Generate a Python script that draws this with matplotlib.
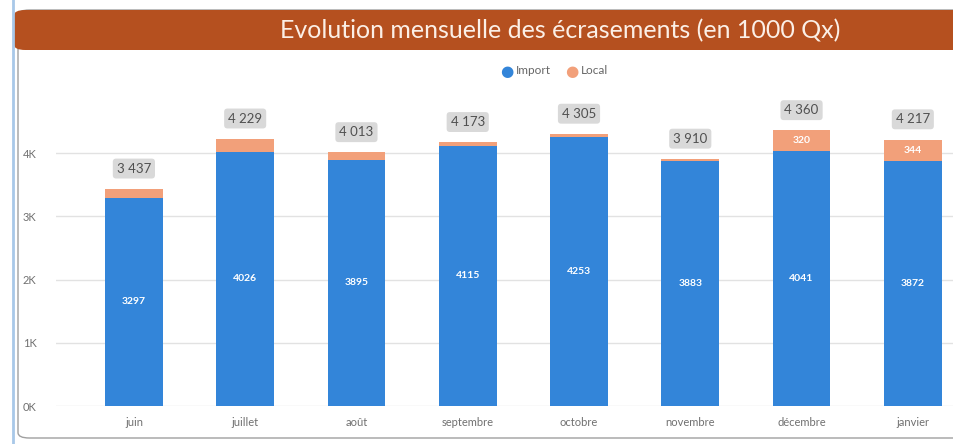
import matplotlib
matplotlib.use("Agg")
import matplotlib.pyplot as plt
from matplotlib.patches import FancyBboxPatch
from matplotlib.lines import Line2D

months = ["juin", "juillet", "août", "septembre", "octobre", "novembre", "décembre", "janvier"]
import_vals = [3297, 4026, 3895, 4115, 4253, 3883, 4041, 3872]
local_vals = [140, 203, 118, 58, 52, 27, 320, 344]
totals = [3437, 4229, 4013, 4173, 4305, 3910, 4360, 4217]

BLUE = "#3385D9"
SALMON = "#F2A07A"
TITLE_BG = "#B5501F"
FONT = ["Lato", "DejaVu Sans"]

fig = plt.figure(figsize=(9.54, 4.44), dpi=100)
W, H = 954, 444

# panel frame and title band
fig.patches.append(FancyBboxPatch((18 / W, 6 / H), 1.2, 428 / H, boxstyle="round,pad=0,rounding_size=0.012",
                                  transform=fig.transFigure, facecolor="white", edgecolor="#A0A0A0",
                                  linewidth=1.0, zorder=0))
fig.patches.append(FancyBboxPatch((14 / W, 1 - 50 / H), 1.2, 40 / H, boxstyle="round,pad=0,rounding_size=0.012",
                                  transform=fig.transFigure, facecolor=TITLE_BG, edgecolor="none", zorder=1))
fig.lines.append(Line2D([13 / W, 13 / W], [0, 1], transform=fig.transFigure, color="#A8C8E8", linewidth=2))
fig.text(560 / W, 1 - 31 / H, "Evolution mensuelle des écrasements (en 1000 Qx)", ha="center", va="center",
         fontsize=18, color="#FBEFE6", family=FONT)

# legend
ly = 1 - 71 / H
fig.text(507 / W, ly, "\u25CF", color=BLUE, fontsize=11, ha="center", va="center", family=["DejaVu Sans"])
fig.text(516 / W, ly, "Import", color="#666666", fontsize=8.5, ha="left", va="center", family=FONT)
fig.text(572 / W, ly, "\u25CF", color=SALMON, fontsize=11, ha="center", va="center", family=["DejaVu Sans"])
fig.text(581 / W, ly, "Local", color="#666666", fontsize=8.5, ha="left", va="center", family=FONT)

ax = fig.add_axes([56 / W, 1 - 406 / H, 1 - 56 / W, (406 - 90) / H])
ax.set_zorder(3)
ax.set_facecolor("none")
x = list(range(len(months)))
ax.bar(x, import_vals, width=0.52, color=BLUE, zorder=3)
ax.bar(x, local_vals, width=0.52, bottom=import_vals, color=SALMON, zorder=3)

for i in x:
    ax.text(i, import_vals[i] / 2, str(import_vals[i]), ha="center", va="center", color="white",
            fontsize=7.5, fontweight="bold", family=FONT, zorder=4)
    if local_vals[i] > 200 and i >= 6:
        ax.text(i, import_vals[i] + local_vals[i] / 2, str(local_vals[i]), ha="center", va="center",
                color="white", fontsize=7.5, fontweight="bold", family=FONT, zorder=4)
    top = import_vals[i] + local_vals[i]
    label = f"{totals[i]:,}".replace(",", " ")
    ax.text(i, top + 320, label, ha="center", va="center", color="#505050", fontsize=9.5, family=FONT, zorder=5,
            bbox=dict(boxstyle="round,pad=0.3,rounding_size=0.25", facecolor="#D9D9D9", edgecolor="none"))

ax.set_xlim(-0.7, 7.37)
ax.set_ylim(0, 5000)
ax.set_yticks([0, 1000, 2000, 3000, 4000])
ax.set_yticklabels(["0K", "1K", "2K", "3K", "4K"])
ax.set_xticks(x)
ax.set_xticklabels(months)
for lab in ax.get_xticklabels() + ax.get_yticklabels():
    lab.set_family(FONT)
    lab.set_fontsize(8)
    lab.set_color("#707070")
ax.tick_params(length=0, pad=8)
ax.tick_params(axis="y", pad=14)
ax.grid(axis="y", color="#E2E2E2", linewidth=1, zorder=0)
for s in ax.spines.values():
    s.set_visible(False)

fig.savefig("out.png", dpi=100)
